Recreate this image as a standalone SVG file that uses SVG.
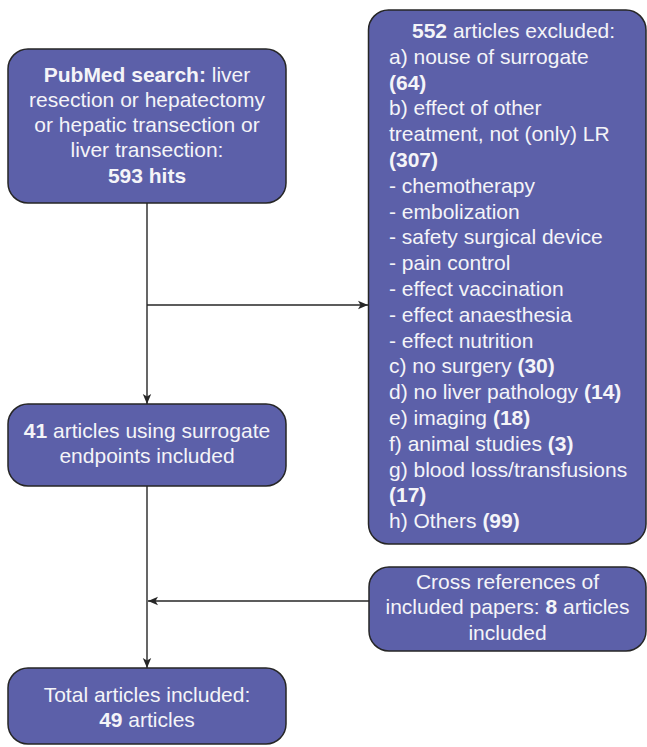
<svg xmlns="http://www.w3.org/2000/svg" width="647" height="747" viewBox="0 0 647 747">
<style>
.box{fill:#5c60a9;stroke:#262626;stroke-width:1.5}
.t{font-family:"Liberation Sans",Arial,sans-serif;font-size:21px;fill:#f4f4f8}
.c{text-anchor:middle}
.b{font-weight:bold}
.line{stroke:#262626;stroke-width:1.4;fill:none}
</style>
<defs>
<marker id="arr" markerWidth="10" markerHeight="10" refX="10" refY="5" orient="auto" markerUnits="userSpaceOnUse">
<path d="M0,0.8 L10,5 L0,9.2 L2.5,5 Z" fill="#262626"/>
</marker>
</defs>
<g id="connectors">
<line class="line" x1="147" y1="203" x2="147" y2="404" marker-end="url(#arr)"/>
<line class="line" x1="147" y1="305" x2="368" y2="305" marker-end="url(#arr)"/>
<line class="line" x1="147" y1="486" x2="147" y2="668" marker-end="url(#arr)"/>
<line class="line" x1="369" y1="601" x2="148" y2="601" marker-end="url(#arr)"/>
</g>
<g id="pubmed">
<rect class="box" x="8" y="49" width="278" height="154" rx="20"/>
<text class="t c" x="147" y="82"><tspan class="b">PubMed search:</tspan> liver</text>
<text class="t c" x="147" y="107">resection or hepatectomy</text>
<text class="t c" x="147" y="132">or hepatic transection or</text>
<text class="t c" x="147" y="157">liver transection:</text>
<text class="t c b" x="147" y="183">593 hits</text>
</g>
<g id="excluded">
<rect class="box" x="368.5" y="10" width="277.5" height="534" rx="20"/>
<text class="t" x="412" y="38"><tspan class="b">552</tspan> articles excluded:</text>
<text class="t" x="389" y="63.8">a) nouse of surrogate</text>
<text class="t b" x="389" y="89.6">(64)</text>
<text class="t" x="389" y="115.4">b) effect of other</text>
<text class="t" x="389" y="141.2">treatment, not (only) LR</text>
<text class="t b" x="389" y="167">(307)</text>
<text class="t" x="389" y="192.8">- chemotherapy</text>
<text class="t" x="389" y="218.6">- embolization</text>
<text class="t" x="389" y="244.4">- safety surgical device</text>
<text class="t" x="389" y="270.2">- pain control</text>
<text class="t" x="389" y="296">- effect vaccination</text>
<text class="t" x="389" y="321.8">- effect anaesthesia</text>
<text class="t" x="389" y="347.6">- effect nutrition</text>
<text class="t" x="389" y="373.4">c) no surgery <tspan class="b">(30)</tspan></text>
<text class="t" x="389" y="399.2">d) no liver pathology <tspan class="b">(14)</tspan></text>
<text class="t" x="389" y="425">e) imaging <tspan class="b">(18)</tspan></text>
<text class="t" x="389" y="450.8">f) animal studies <tspan class="b">(3)</tspan></text>
<text class="t" x="389" y="476.6">g) blood loss/transfusions</text>
<text class="t b" x="389" y="502.4">(17)</text>
<text class="t" x="389" y="528.2">h) Others <tspan class="b">(99)</tspan></text>
</g>
<g id="surrogate">
<rect class="box" x="8" y="404" width="278" height="82" rx="20"/>
<text class="t c" x="147" y="438"><tspan class="b">41</tspan> articles using surrogate</text>
<text class="t c" x="147" y="463">endpoints included</text>
</g>
<g id="crossref">
<rect class="box" x="369" y="567" width="277" height="84" rx="20"/>
<text class="t c" x="507.5" y="589">Cross references of</text>
<text class="t c" x="507.5" y="614">included papers: <tspan class="b">8</tspan> articles</text>
<text class="t c" x="507.5" y="640">included</text>
</g>
<g id="total">
<rect class="box" x="8" y="668" width="278" height="76" rx="20"/>
<text class="t c" x="147" y="702">Total articles included:</text>
<text class="t c" x="147" y="727"><tspan class="b">49</tspan> articles</text>
</g>
</svg>
